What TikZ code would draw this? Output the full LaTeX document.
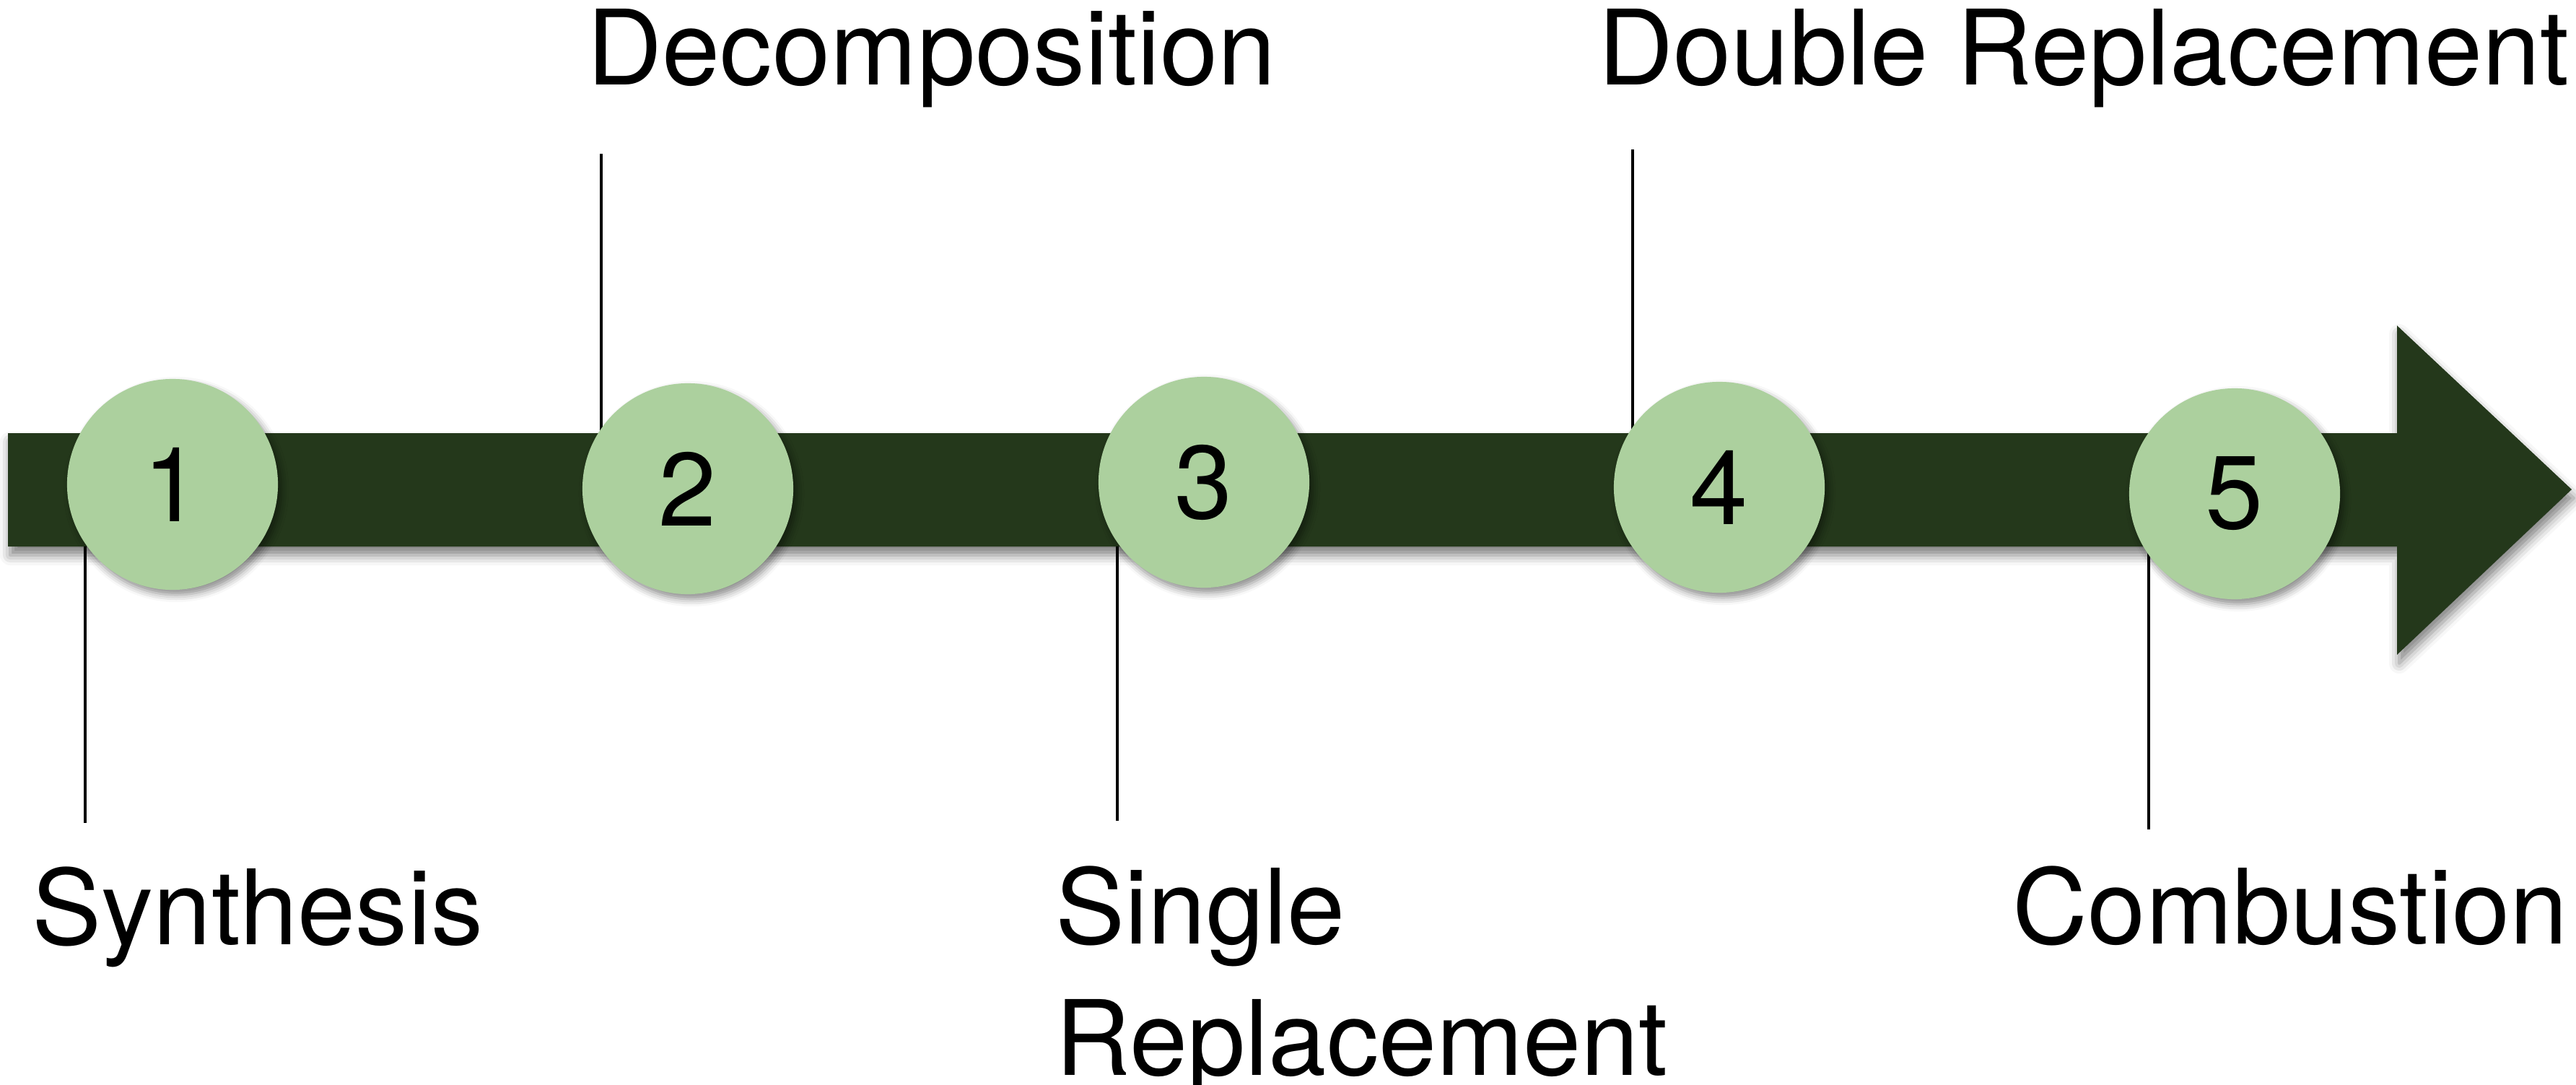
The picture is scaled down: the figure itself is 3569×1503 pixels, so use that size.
\documentclass[tikz,border=0pt]{standalone}
\usepackage{fontspec}
\setmainfont{TeX Gyre Heros}
\usetikzlibrary{shadows.blur}
\definecolor{bardark}{RGB}{36,56,27}
\definecolor{dotgreen}{RGB}{172,208,158}
\tikzset{
  labelfont/.style={font=\fontsize{41}{51.6}\selectfont},
  stepdot/.style={circle, fill=dotgreen, minimum size=2.92cm, inner sep=0pt,
    labelfont, text=black,
    blur shadow={shadow xshift=0.05cm, shadow yshift=-0.07cm,
      shadow blur radius=0.1cm, shadow opacity=45}},
  stagelabel/.style={labelfont, inner sep=0pt, anchor=base west, align=left},
  leader/.style={line width=1.4pt, black},
  timeline/.style={fill=bardark,
    blur shadow={shadow xshift=0.03cm, shadow yshift=-0.12cm,
      shadow blur radius=0.14cm, shadow opacity=50}}
}
\begin{document}
\begin{tikzpicture}[x=0.01cm, y=-0.01cm]
  \useasboundingbox (0,0) rectangle (3569,1503);

  % the timeline arrow
  \fill[timeline] (11,600) -- (3321,600) -- (3321,451) -- (3563,678)
    -- (3321,907) -- (3321,757) -- (11,757) -- cycle;

  % leader-line end points
  \coordinate (t1) at (118,757);  \coordinate (e1) at (118,1140);
  \coordinate (t2) at (833,600);  \coordinate (e2) at (833,213);
  \coordinate (t3) at (1548,757); \coordinate (e3) at (1548,1137);
  \coordinate (t4) at (2262,600); \coordinate (e4) at (2262,207);
  \coordinate (t5) at (2977,757); \coordinate (e5) at (2977,1149);

  \draw[leader] (t1) -- (e1);
  \draw[leader] (t2) -- (e2);
  \draw[leader] (t3) -- (e3);
  \draw[leader] (t4) -- (e4);
  \draw[leader] (t5) -- (e5);

  % numbered stages
  \node[stepdot] (s1) at (239,671) {1};
  \node[stepdot] (s2) at (953,677) {2};
  \node[stepdot] (s3) at (1668,668) {3};
  \node[stepdot] (s4) at (2382,675) {4};
  \node[stepdot] (s5) at (3096,684) {5};

  % reaction types (a two-line node sits on the baseline of its last line)
  \node[stagelabel] (l1) at (44,1308) {Synthesis};
  \node[stagelabel] (l2) at (813,118) {Decomposition};
  \node[stagelabel] (l3) at (1462,1489) {Single\\Replacement};
  \node[stagelabel] (l4) at (2214,118) {Double Replacement};
  \node[stagelabel] (l5) at (2788,1307) {Combustion};
\end{tikzpicture}
\end{document}
